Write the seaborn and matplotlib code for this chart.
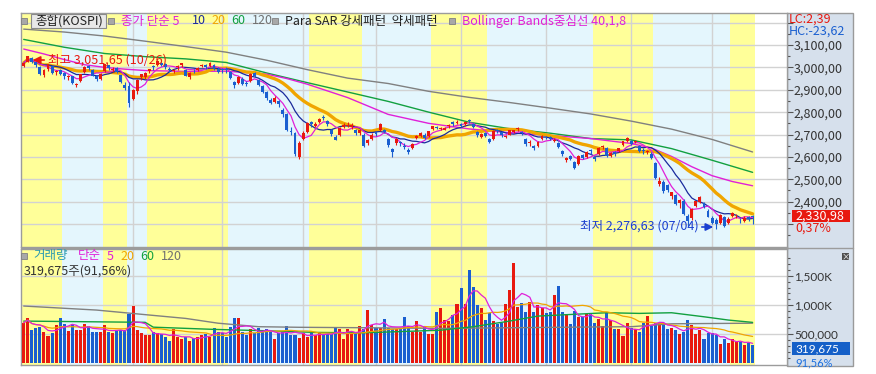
import numpy as np
import pandas as pd
import seaborn as sns
import matplotlib.pyplot as plt
from matplotlib.patches import Rectangle

sns.set_style("white")
plt.rcParams['font.family'] = ['Noto Sans CJK KR', 'DejaVu Sans']

# ---- data (KOSPI daily, 2021-10-25 .. 2022-07-15) ----
close = [
    3020.54, 3049.08, 3025.49, 3009.55, 2970.68, 2990.07, 3013.37, 2975.71, 2983.22, 2969.27,
    2960.20, 2963.20, 2930.17, 2924.92, 2968.80, 2999.52, 2997.21, 2962.42, 2947.38, 2971.02,
    3013.25, 2997.33, 2994.29, 2980.27, 2936.44, 2909.32, 2839.01, 2899.72, 2945.27, 2968.33,
    2973.25, 2991.72, 3001.80, 3029.57, 3010.23, 3001.66, 2987.95, 2989.39, 3006.41, 3017.74,
    2963.00, 2975.03, 2984.48, 2998.17, 3012.43, 2999.55, 3020.24, 2993.29, 2977.65, 2988.77,
    2989.24, 2953.97, 2920.53, 2954.89, 2926.72, 2927.38, 2972.48, 2962.09, 2921.92, 2890.10,
    2864.24, 2842.28, 2862.68, 2834.29, 2792.00, 2720.39, 2709.24, 2614.49, 2663.34, 2707.82,
    2750.26, 2745.06, 2746.47, 2768.85, 2771.93, 2747.71, 2704.48, 2676.54, 2729.68, 2744.09,
    2744.52, 2743.80, 2706.79, 2719.53, 2648.80, 2676.76, 2699.18, 2703.52, 2747.08, 2713.43,
    2651.31, 2622.40, 2680.32, 2661.28, 2645.65, 2621.53, 2657.13, 2694.51, 2707.62, 2686.05,
    2713.73, 2736.02, 2729.98, 2729.66, 2729.56, 2741.07, 2746.74, 2757.65, 2739.85, 2757.90,
    2759.20, 2735.03, 2695.86, 2700.39, 2693.10, 2666.76, 2716.49, 2716.71, 2696.06, 2693.21,
    2718.69, 2718.89, 2728.21, 2704.71, 2657.13, 2668.31, 2639.06, 2667.49, 2695.05, 2687.45,
    2680.46, 2677.57, 2644.51, 2610.81, 2596.56, 2592.27, 2550.08, 2604.24, 2596.58, 2620.44,
    2625.98, 2592.34, 2639.29, 2647.38, 2605.87, 2617.22, 2612.45, 2638.05, 2669.66, 2685.90,
    2658.99, 2670.65, 2626.15, 2625.44, 2625.98, 2595.87, 2504.51, 2492.97, 2447.38, 2451.41,
    2440.93, 2391.03, 2408.93, 2342.81, 2314.32, 2366.60, 2401.92, 2422.09, 2377.99, 2332.64,
    2305.42, 2300.34, 2341.78, 2292.01, 2324.00, 2350.61, 2340.27, 2317.76, 2328.61, 2322.32, 2330.98]

open_ = [
    3006, 3026, 3040, 3024, 3002, 2968, 2992, 3005, 2978, 2990,
    2975, 2955, 2960, 2921, 2940, 2980, 3005, 2990, 2960, 2950,
    2983, 3010, 2990, 2996, 2965, 2920, 2915, 2860, 2895, 2955,
    2955, 2985, 3005, 3010, 3020, 3015, 2995, 2982, 3000, 3010,
    2990, 2955, 2985, 2990, 3005, 3012, 3005, 3010, 2995, 2993,
    2992, 2980, 2935, 2930, 2950, 2930, 2940, 2975, 2945, 2915,
    2890, 2855, 2845, 2850, 2810, 2790, 2715, 2709, 2600, 2680,
    2710, 2755, 2740, 2755, 2780, 2760, 2720, 2690, 2700, 2735,
    2740, 2735, 2720, 2705, 2700, 2660, 2680, 2710, 2720, 2720,
    2680, 2635, 2660, 2665, 2650, 2630, 2640, 2685, 2695, 2700,
    2695, 2725, 2735, 2725, 2720, 2740, 2755, 2750, 2745, 2745,
    2765, 2745, 2710, 2690, 2705, 2680, 2680, 2720, 2710, 2690,
    2700, 2710, 2725, 2710, 2680, 2660, 2650, 2650, 2680, 2690,
    2690, 2670, 2660, 2625, 2585, 2605, 2575, 2570, 2610, 2600,
    2630, 2600, 2615, 2645, 2640, 2605, 2620, 2625, 2655, 2670,
    2670, 2665, 2650, 2630, 2620, 2615, 2573, 2480, 2490, 2475,
    2425, 2430, 2395, 2405, 2335, 2327, 2380, 2400, 2395, 2360,
    2325, 2318, 2305, 2330, 2305, 2335, 2340, 2320, 2315, 2330, 2336]

high = [
    3023, 3051.65, 3045, 3030, 3005, 2994, 3016, 3008, 2990, 2995,
    2980, 2968, 2962, 2931, 2970, 3005, 3010, 2993, 2963, 2975,
    3015, 3012, 3000, 3000, 2968, 2935, 2935, 2905, 2950, 2972,
    2978, 2995, 3010, 3032, 3025, 3020, 3000, 2995, 3010, 3020,
    2995, 2978, 2995, 3000, 3015, 3015, 3025, 3015, 3000, 2998,
    3000, 2985, 2940, 2960, 2955, 2940, 2975, 2980, 2950, 2920,
    2895, 2865, 2870, 2855, 2820, 2795, 2735, 2712, 2670, 2715,
    2755, 2760, 2755, 2775, 2785, 2765, 2725, 2700, 2735, 2750,
    2755, 2750, 2725, 2725, 2705, 2680, 2705, 2715, 2750, 2725,
    2685, 2640, 2685, 2670, 2660, 2640, 2660, 2698, 2710, 2705,
    2715, 2740, 2740, 2735, 2735, 2745, 2760, 2765, 2750, 2760,
    2770, 2750, 2715, 2705, 2710, 2685, 2720, 2725, 2715, 2700,
    2722, 2722, 2735, 2715, 2685, 2675, 2655, 2670, 2700, 2695,
    2695, 2685, 2665, 2630, 2600, 2610, 2580, 2608, 2615, 2625,
    2635, 2605, 2645, 2655, 2645, 2620, 2625, 2640, 2672, 2690,
    2675, 2675, 2655, 2640, 2630, 2620, 2575, 2510, 2495, 2480,
    2445, 2435, 2410, 2410, 2345, 2370, 2405, 2425, 2400, 2365,
    2335, 2325, 2345, 2335, 2330, 2355, 2345, 2325, 2335, 2335, 2340]

low = [
    3001, 3023, 3020, 3000, 2965, 2955, 2985, 2970, 2966, 2965,
    2950, 2945, 2926, 2912, 2935, 2975, 2990, 2960, 2940, 2945,
    2980, 2990, 2980, 2975, 2929, 2900, 2821, 2855, 2880, 2945,
    2950, 2975, 2990, 3005, 3005, 2995, 2980, 2975, 2990, 3000,
    2960, 2950, 2975, 2985, 3000, 2995, 3000, 2990, 2975, 2975,
    2975, 2950, 2910, 2925, 2920, 2918, 2935, 2955, 2915, 2885,
    2855, 2835, 2840, 2825, 2780, 2715, 2700, 2605, 2591, 2675,
    2705, 2735, 2735, 2750, 2765, 2740, 2695, 2675, 2695, 2730,
    2735, 2725, 2700, 2700, 2645, 2655, 2675, 2695, 2715, 2705,
    2645, 2600, 2655, 2650, 2635, 2615, 2635, 2680, 2690, 2680,
    2690, 2720, 2725, 2720, 2718, 2730, 2740, 2745, 2735, 2740,
    2750, 2730, 2690, 2685, 2690, 2660, 2675, 2705, 2690, 2685,
    2698, 2705, 2715, 2700, 2650, 2650, 2630, 2645, 2675, 2680,
    2675, 2665, 2640, 2605, 2575, 2585, 2546, 2565, 2590, 2595,
    2615, 2580, 2610, 2635, 2600, 2600, 2605, 2620, 2650, 2665,
    2655, 2660, 2620, 2615, 2615, 2590, 2500, 2470, 2440, 2445,
    2410, 2385, 2370, 2340, 2291, 2320, 2375, 2395, 2370, 2330,
    2300, 2276.63, 2300, 2288, 2300, 2330, 2325, 2305, 2310, 2315, 2300]

# volume, thousand shares
volume = [
    698, 784, 572, 612, 630, 544, 475, 527, 658, 784,
    675, 561, 675, 578, 578, 669, 647, 544, 544, 544,
    658, 544, 527, 561, 572, 572, 846, 983, 572, 527,
    487, 487, 533, 515, 504, 458, 390, 584, 447, 412,
    447, 390, 430, 458, 487, 504, 458, 601, 544, 527,
    447, 618, 784, 784, 544, 487, 584, 527, 612, 544,
    584, 544, 412, 527, 544, 641, 487, 487, 441, 527,
    447, 515, 487, 515, 504, 498, 498, 612, 584, 418,
    590, 544, 515, 641, 584, 915, 658, 601, 601, 761,
    601, 584, 584, 601, 795, 641, 544, 732, 544, 630,
    504, 498, 886, 943, 744, 727, 829, 1018, 1286, 1018,
    1600, 1303, 1001, 943, 744, 869, 727, 675, 687, 1018,
    1257, 1726, 972, 1029, 886, 1058, 886, 1001, 943, 869,
    886, 1172, 1326, 886, 846, 675, 903, 789, 789, 846,
    869, 687, 761, 647, 858, 744, 590, 590, 470, 687,
    601, 584, 544, 687, 812, 641, 687, 698, 675, 590,
    601, 572, 498, 533, 744, 658, 504, 572, 418, 527,
    515, 487, 333, 418, 344, 412, 361, 373, 315, 355, 320]

# long averages (they reach back before the first candle)
ma40_idx = [0, 5, 10, 15, 20, 25, 30, 40, 50, 60, 65, 70, 80, 90, 100, 110, 120,
            130, 140, 150, 155, 160, 165, 170, 175, 180]
ma40_val = [3082, 3060, 3035, 3012, 3000, 2992, 2986, 2982, 2983, 2970, 2950, 2925,
            2865, 2790, 2750, 2725, 2708, 2696, 2682, 2660, 2640, 2602, 2556, 2516,
            2490, 2471]
ma60_idx = [0, 10, 20, 30, 40, 50, 60, 70, 80, 90, 100, 110, 120, 130, 140, 150,
            160, 170, 180]
ma60_val = [3125, 3090, 3062, 3048, 3038, 3022, 2975, 2932, 2890, 2848, 2800, 2755,
            2726, 2706, 2682, 2676, 2637, 2585, 2531]
ma120_idx = [0, 10, 20, 30, 40, 50, 60, 70, 80, 90, 100, 110, 120, 130, 140, 150,
             160, 170, 180]
ma120_val = [3171, 3158, 3140, 3117, 3093, 3068, 3032, 2990, 2952, 2928, 2893, 2866,
             2843, 2818, 2792, 2760, 2724, 2678, 2622]
vma60_idx = [0, 20, 30, 32, 47, 60, 72, 84, 103, 111, 119, 127, 137, 144, 152, 160,
             168, 174, 180]
vma60_val = [726, 712, 705, 622, 584, 560, 532, 525, 570, 630, 715, 812, 846, 869,
             858, 869, 800, 744, 704]
vma120_idx = [0, 18, 31, 40, 48, 58, 68, 85, 103, 120, 140, 150, 160, 180]
vma120_val = [984, 915, 830, 772, 690, 630, 620, 612, 601, 612, 625, 630, 680, 690]

# Para SAR regime bands: start index of each band (yellow / sky alternating)
band_starts = [0, 10, 20, 26, 31, 51, 71, 84, 101, 115, 141, 156, 175]
month_starts = [27, 49, 69, 87, 108, 129, 150, 170]

price_ticks = [2400, 2500, 2600, 2700, 2800, 2900, 3000, 3100]

# ---- colours ----
RED = '#e8190f'
BLUE = '#1a5fd0'
YEL = '#ffff99'
SKY = '#e4f6fd'
GRID = '#d2d2d2'
MAG = '#e020d8'
NAVY = '#1a2a9c'
ORG = '#f0a500'
GRN = '#12a040'
GRY = '#808080'

W, H = 876, 374
fig = plt.figure(figsize=(W / 100, H / 100), dpi=100)


def fpos(px, py):
    return px / W, 1 - py / H


def ftext(px, py, s, color, size=9, ha='left', **kw):
    x, y = fpos(px, py)
    fig.text(x, y, s, color=color, fontsize=size, ha=ha, va='center', zorder=6, **kw)


def frect(x0, y0, x1, y1, fc, ec='none', lw=0.8, z=5):
    fx, fy = fpos(x0, y1)
    fig.patches.append(Rectangle((fx, fy), (x1 - x0) / W, (y1 - y0) / H,
                                 transform=fig.transFigure, facecolor=fc,
                                 edgecolor=ec, lw=lw, zorder=z))


# right scale panel background
frect(787, 13, 853, 366, '#d6e0ec', ec='#9a9a9a', lw=1.0, z=-1)

ax = fig.add_axes([21 / W, 1 - 247 / H, 766 / W, 234 / H])
axv = fig.add_axes([21 / W, 1 - 365 / H, 766 / W, 116 / H])

N = len(close)
x = np.arange(N)
c = np.array(close)
o = np.array(open_, dtype=float)
up = c >= o
cols = np.where(up, RED, BLUE)
XL = (-0.67, 188.5)

for a in (ax, axv):
    a.set_xlim(*XL)
    edges = band_starts + [N]
    for k in range(len(band_starts)):
        lo = edges[k] - 0.5 if k else XL[0]
        a.axvspan(lo, edges[k + 1] - 0.5, color=YEL if k % 2 == 0 else SKY, lw=0, zorder=0)
    for m in month_starts:
        a.axvline(m, color=GRID, lw=1.0, zorder=1)
    for s in a.spines.values():
        s.set_color('#9c9c9c')
        s.set_linewidth(1.0)
    a.set_xticks([])
    a.yaxis.tick_right()

# ---- price panel ----
ax.set_ylim(2197.4, 3243)
for lv in range(2300, 3300, 100):
    ax.axhline(lv, color=GRID, lw=1.0, zorder=1)

s = pd.Series(close)
sns.lineplot(x=ma120_idx, y=ma120_val, ax=ax, color=GRY, lw=1.0, zorder=2)
sns.lineplot(x=ma60_idx, y=ma60_val, ax=ax, color=GRN, lw=1.0, zorder=2)
sns.lineplot(x=ma40_idx, y=ma40_val, ax=ax, color=MAG, lw=1.0, zorder=2)
sns.lineplot(x=x, y=s.rolling(20, min_periods=1).mean(), ax=ax, color=ORG, lw=2.4, zorder=2)
sns.lineplot(x=x, y=s.rolling(10, min_periods=1).mean(), ax=ax, color=NAVY, lw=0.9, zorder=2)
sns.lineplot(x=x, y=s.rolling(5, min_periods=1).mean(), ax=ax, color=MAG, lw=0.9, zorder=2)

ax.vlines(x, low, high, colors=cols, lw=0.8, zorder=3)
body = np.maximum(np.abs(c - o), 1.5)
ax.bar(x, body, bottom=np.minimum(c, o), width=0.72, color=cols, lw=0, zorder=4)

ax.set_yticks(price_ticks + [2300, 3200])
ax.set_yticklabels([f"{v:,},00" for v in price_ticks] + ['', ''])
ax.set_yticks(np.arange(2250, 3250, 100), minor=True)
ax.tick_params(axis='y', which='major', direction='out', length=4, width=0.8,
               color='#555555', labelsize=9, labelcolor='#333333', pad=1)
ax.tick_params(axis='y', which='minor', direction='out', length=2, width=0.8, color='#555555')
ax.set_xlabel('')
ax.set_ylabel('')

# ---- volume panel ----
axv.set_ylim(-26, 1961)
for lv in (500, 1000, 1500):
    axv.axhline(lv, color=GRID, lw=1.0, zorder=1)
vs = pd.Series(volume)
axv.bar(x, volume, width=0.75, color=cols, lw=0, zorder=3)
sns.lineplot(x=vma120_idx, y=vma120_val, ax=axv, color=GRY, lw=1.0, zorder=4)
sns.lineplot(x=vma60_idx, y=vma60_val, ax=axv, color=GRN, lw=1.0, zorder=4)
sns.lineplot(x=x, y=vs.rolling(20, min_periods=1).mean(), ax=axv, color=ORG, lw=0.9, zorder=4)
sns.lineplot(x=x, y=vs.rolling(5, min_periods=1).mean(), ax=axv, color=MAG, lw=0.9, zorder=4)
axv.set_yticks([500, 1000, 1500])
axv.set_yticklabels(['500,000', '1,000K', '1,500K'], family='Lato')
axv.set_yticks(np.arange(100, 1900, 100), minor=True)
axv.tick_params(axis='y', which='major', direction='out', length=4, width=0.8,
                color='#555555', labelsize=8.5, labelcolor='#333333', pad=1)
axv.tick_params(axis='y', which='minor', direction='out', length=2, width=0.8, color='#555555')
axv.set_xlabel('')
axv.set_ylabel('')

# panel separator through the scale column
fig.add_artist(plt.Line2D([21 / W, 853 / W], [1 - 248 / H] * 2, color='#9c9c9c', lw=1.0,
                          transform=fig.transFigure, zorder=5))

# ---- price legend row ----
for sx in (24, 111, 275, 452):
    frect(sx - 3, 18, sx + 3, 24, '#a8a8a8', ec='#808080', lw=0.6, z=5)
frect(31, 14, 106, 28, '#e8e8e8', ec='#8a8a8a', lw=0.8, z=5)
ftext(35, 21, '종합(KOSPI)', '#222222')
ftext(121, 21, '종가 단순 5', MAG)
ftext(192, 21, '10', NAVY)
ftext(211, 21, '20', ORG)
ftext(231, 21, '60', GRN)
ftext(252, 21, '120', '#707070')
ftext(285, 21, 'Para SAR 강세패턴  약세패턴', '#222222')
ftext(462, 21, 'Bollinger Bands중심선 40,1,8', MAG)

ftext(789, 19, 'LC:2,39', RED)
ftext(789, 31, 'HC:-23,62', BLUE)

# high / low markers
ax.annotate('', xy=(30, H - 60), xytext=(47, H - 60), xycoords='figure pixels',
            textcoords='figure pixels', annotation_clip=False,
            arrowprops=dict(arrowstyle='-|>', color=RED, lw=1.2, mutation_scale=11))
ftext(48, 60, '최고 3,051,65 (10/26)', RED)
ftext(580, 226, '최저 2,276,63 (07/04)', '#1a3fd0')
ax.annotate('', xy=(716, H - 227), xytext=(699, H - 227), xycoords='figure pixels',
            textcoords='figure pixels', annotation_clip=False,
            arrowprops=dict(arrowstyle='-|>', color='#1a3fd0', lw=1.2, mutation_scale=11))

# current price box
frect(792, 210, 850, 222, RED, z=5)
ftext(795, 216, '2,330,98', 'white')
ftext(795, 228, '0,37%', RED)

# ---- volume legend ----
frect(21, 253, 27, 259, '#a8a8a8', ec='#808080', lw=0.6, z=5)
ftext(33, 256, '거래량', '#2a9ab0')
ftext(78, 256, '단순', MAG)
ftext(107, 256, '5', MAG)
ftext(120, 256, '20', ORG)
ftext(140, 256, '60', GRN)
ftext(161, 256, '120', '#707070')
ftext(24, 271, '319,675주(91,56%)', '#333333')

frect(842, 253, 849, 260, '#505050', z=5)
ftext(845.5, 256.5, '×', 'white', size=6, ha='center')

frect(792, 342, 850, 355, '#1560c8', z=5)
ftext(795, 349, '319,675', 'white', size=8.5, family='Lato')
ftext(795, 363, '91,56%', '#1a6fe0', size=8, family='Lato')

fig.savefig('out.png', dpi=100)
